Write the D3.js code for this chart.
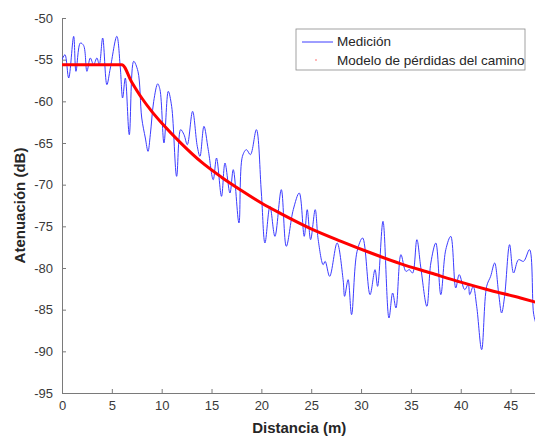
<!DOCTYPE html>
<html>
<head>
<meta charset="utf-8">
<script src="https://cdn.jsdelivr.net/npm/d3@7"></script>
<style>
  body { margin: 0; background: #fff; }
  svg { display: block; font-family: "Liberation Sans", Arial, sans-serif; }
  .axis path, .axis line { stroke: #7a7a7a; }
  .axis text { fill: #3a3a3a; font-size: 13px; }
  .axis-label { font-size: 15px; font-weight: bold; fill: #262626; }
  .legend text { font-size: 13.5px; fill: #262626; }
</style>
</head>
<body>
<div data-viz="wrapper"></div>
<script>
// Medición: distancia (m) y atenuación (dB)
const distance = [
  0.0, 0.3, 0.67, 1.17, 1.4, 1.84, 2.17, 2.5, 2.84, 3.17, 3.5, 3.74, 4.08, 4.5, 4.85,
  5.5, 5.85, 6.08, 6.35, 6.75, 7.19, 7.62, 8.0, 8.36, 8.63, 8.86, 9.2, 9.6, 9.83, 10.23,
  10.66, 11.0, 11.5, 11.9, 12.24, 12.57, 13.1, 13.57, 13.84, 14.24, 14.67, 15.17, 15.5, 16.0, 16.35,
  16.85, 17.18, 17.75, 18.1, 18.5, 18.9, 19.5, 20.0, 20.36, 20.86, 21.36, 22.0, 22.5, 23.2, 23.8,
  24.3, 24.6, 24.94, 25.4, 25.7, 26.2, 26.4, 26.85, 27.6, 28.2, 28.35, 28.7, 29.05, 29.6, 30.16,
  30.9, 31.4, 31.66, 32.2, 32.8, 33.17, 33.5, 34.0, 34.5, 34.84, 35.17, 35.6, 36.0, 36.6, 37.0,
  37.5, 38.0, 38.5, 39.0, 39.5, 39.85, 40.4, 40.75, 40.9, 41.25, 41.6, 42.1, 42.6, 43.0, 43.4,
  43.8, 44.1, 44.4, 44.9, 45.3, 45.8, 46.3, 46.9, 47.3, 47.5
]
const measured = [
  -55.0, -54.4, -57.2, -52.2, -56.4, -53.0, -53.3, -56.4, -54.8, -55.6, -54.8, -55.6, -52.4, -58.0, -56.0,
  -52.2, -56.0, -59.6, -57.2, -64.0, -55.2, -56.4, -62.0, -64.4, -66.0, -64.0, -60.0, -57.9, -58.6, -65.0,
  -58.8, -60.6, -69.0, -63.4, -64.0, -65.2, -61.2, -65.4, -66.6, -63.0, -65.8, -69.4, -66.8, -71.4, -67.4,
  -71.0, -68.2, -74.6, -66.6, -65.8, -66.4, -63.4, -71.0, -77.0, -72.6, -76.2, -70.6, -77.4, -73.0, -71.0,
  -76.2, -73.0, -76.6, -73.0, -76.6, -79.6, -79.2, -81.0, -77.0, -81.4, -83.4, -81.4, -85.6, -78.0, -76.4,
  -83.2, -80.2, -82.2, -74.4, -86.0, -83.0, -84.8, -78.4, -80.4, -80.2, -80.6, -76.6, -80.0, -84.6, -79.4,
  -77.0, -83.2, -77.8, -76.2, -82.4, -80.8, -82.6, -82.0, -83.2, -82.2, -84.6, -89.8, -82.2, -81.0, -79.4,
  -83.0, -85.4, -83.4, -77.2, -80.6, -79.0, -79.2, -77.8, -85.4, -86.5
]

// Modelo de pérdidas del camino
const modelDistance = [0, 6, 7, 8, 9, 10, 12, 14, 16, 18, 20, 22, 25, 28, 31, 34, 37, 40, 43, 46, 47.5]
const modelLoss = [
  -55.6, -55.6, -57.7, -59.6, -61.2, -62.6, -65.1, -67.3, -69.1, -70.7, -72.2, -73.5,
  -75.3, -76.8, -78.2, -79.5, -80.6, -81.7, -82.7, -83.6, -84.1
]

const xTicks = [0, 5, 10, 15, 20, 25, 30, 35, 40, 45]
const yTicks = [-95, -90, -85, -80, -75, -70, -65, -60, -55, -50]
const legendLabels = ["Medición", "Modelo de pérdidas del camino"]

const dimensions = {
  width: 535,
  height: 440,
  margin: { top: 18, right: 0, bottom: 47, left: 62 },
}
dimensions.boundedWidth = dimensions.width - dimensions.margin.left - dimensions.margin.right
dimensions.boundedHeight = dimensions.height - dimensions.margin.top - dimensions.margin.bottom

const xScale = d3.scaleLinear()
  .domain([0, 47.45])
  .range([0, dimensions.boundedWidth])
const yScale = d3.scaleLinear()
  .domain([-95, -50])
  .range([dimensions.boundedHeight, 0])

const svg = d3.select("[data-viz='wrapper']").append("svg")
  .attr("width", dimensions.width)
  .attr("height", dimensions.height)

const bounds = svg.append("g")
  .attr("transform", `translate(${dimensions.margin.left},${dimensions.margin.top})`)

bounds.append("clipPath").attr("id", "plot-clip")
  .append("rect")
    .attr("width", dimensions.boundedWidth)
    .attr("height", dimensions.boundedHeight)

// Ejes (ticks hacia dentro, estilo MATLAB), con guion ASCII en los negativos
const plainNumber = d => String(d)

bounds.append("g")
    .attr("class", "axis")
    .attr("transform", `translate(0,${dimensions.boundedHeight})`)
    .call(d3.axisBottom(xScale).tickValues(xTicks).tickFormat(plainNumber)
      .tickSizeInner(-4).tickSizeOuter(0).tickPadding(8))

bounds.append("g")
    .attr("class", "axis")
    .call(d3.axisLeft(yScale).tickValues(yTicks).tickFormat(plainNumber)
      .tickSizeInner(-4).tickSizeOuter(0).tickPadding(9))

// Medición
const measuredLine = d3.line()
  .x((d, i) => xScale(distance[i]))
  .y(d => yScale(d))
  .curve(d3.curveCatmullRom)

bounds.append("path")
    .attr("clip-path", "url(#plot-clip)")
    .attr("d", measuredLine(measured))
    .attr("fill", "none")
    .attr("stroke", "#3c3cff")
    .attr("stroke-width", 1)

// Modelo
const modelLine = d3.line()
  .x((d, i) => xScale(modelDistance[i]))
  .y(d => yScale(d))
  .curve(d3.curveMonotoneX)

bounds.append("path")
    .attr("clip-path", "url(#plot-clip)")
    .attr("d", modelLine(modelLoss))
    .attr("fill", "none")
    .attr("stroke", "#ff0000")
    .attr("stroke-width", 3)
    .attr("stroke-linejoin", "round")

// Etiquetas de ejes
svg.append("text")
    .attr("class", "axis-label")
    .attr("x", dimensions.margin.left + xScale(23.8))
    .attr("y", 433)
    .attr("text-anchor", "middle")
    .text("Distancia (m)")

svg.append("text")
    .attr("class", "axis-label")
    .attr("transform", `translate(25,${dimensions.margin.top + yScale(-72.5)}) rotate(-90)`)
    .attr("text-anchor", "middle")
    .text("Atenuación (dB)")

// Leyenda
const legend = svg.append("g")
    .attr("class", "legend")
    .attr("transform", "translate(296,29)")

legend.append("rect")
    .attr("width", 229)
    .attr("height", 41)
    .attr("fill", "#fff")
    .attr("stroke", "#8a8a8a")
    .attr("stroke-width", 0.8)

legend.append("line")
    .attr("x1", 6).attr("x2", 37)
    .attr("y1", 13).attr("y2", 13)
    .attr("stroke", "#3c3cff")
    .attr("stroke-width", 1)

legend.append("circle")
    .attr("cx", 20).attr("cy", 31)
    .attr("r", 1)
    .attr("fill", "#ff6060")
    .attr("opacity", 0.6)

legend.selectAll(".legend-label")
  .data(legendLabels)
  .join("text")
    .attr("class", "legend-label")
    .attr("x", 41)
    .attr("y", (d, i) => 17 + i * 19)
    .text(d => d)
</script>
</body>
</html>
